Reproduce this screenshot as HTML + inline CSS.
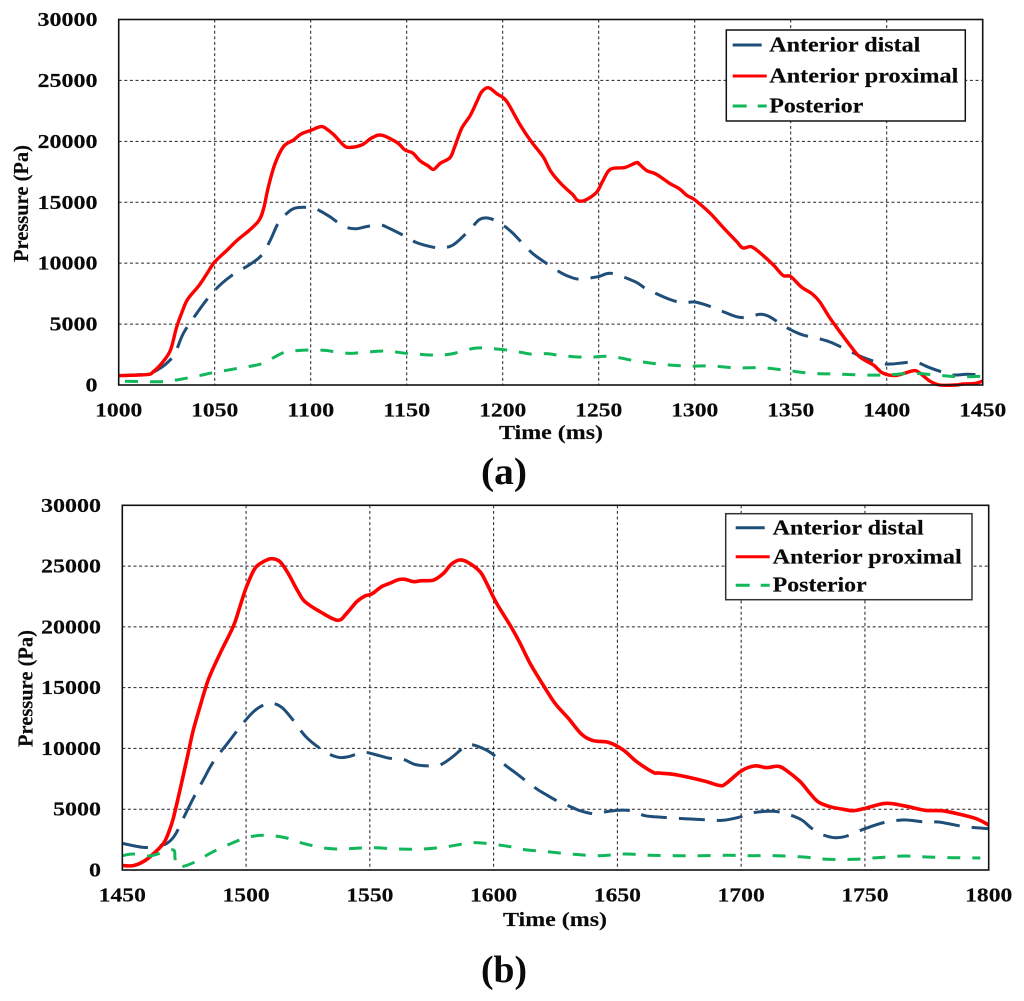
<!DOCTYPE html>
<html lang="en">
<head>
<meta charset="utf-8">
<title>Pressure vs time</title>
<style>
html,body{margin:0;padding:0;background:#fff;}
svg{display:block;filter:blur(0.35px);}
text{font-family:"Liberation Serif","DejaVu Serif",serif;font-weight:bold;fill:#0a0a0a;stroke:#0a0a0a;stroke-width:0.15px;}
text.caption{stroke:none;}
</style>
</head>
<body>
<svg id="figure" xmlns="http://www.w3.org/2000/svg" width="1024" height="1001" viewBox="0 0 1024 1001"></svg>
<script>
const seriesNames = ["Anterior distal", "Anterior proximal", "Posterior"];
const yTicks = [0, 5000, 10000, 15000, 20000, 25000, 30000];
const xTicksA = [1000, 1050, 1100, 1150, 1200, 1250, 1300, 1350, 1400, 1450];
const xTicksB = [1450, 1500, 1550, 1600, 1650, 1700, 1750, 1800];

const aDistalT = [1000,1014.6,1020,1025,1029.3,1033.7,1040.6,1049.3,1058,1068.4,1074.5,1079,1083,1087.5,1092,1099.6,1104,1110,1117,1123,1129,1136,1141,1148,1155,1164,1167,1174,1183,1188,1193.4,1200,1205.4,1214,1219,1230,1236.6,1241,1249.7,1256.6,1269,1275,1287,1294,1300,1307,1314,1321.7,1327,1334,1339,1345,1351,1356.4,1364,1371,1383,1388,1397,1402.6,1409,1415.4,1422.4,1429.3,1434.6,1442,1450];
const aDistalV = [770,900,1230,1780,2600,4240,5880,7650,8890,9900,10660,11900,13260,14080,14520,14570,14360,13810,13040,12820,13000,13150,12850,12300,11700,11300,11270,11480,12770,13590,13670,13130,12440,11020,10390,9240,8780,8700,8890,9160,8480,7880,7030,6750,6810,6510,6070,5610,5550,5800,5610,4980,4460,4100,3830,3500,2600,2240,1780,1720,1830,1860,1420,1040,820,880,820];

const aProximalT = [1000,1014.6,1018,1023,1027,1030,1033,1036,1042,1046,1050,1056,1061.5,1068,1073,1075.5,1078,1081.5,1086,1091,1095,1100,1105,1107.5,1112,1117,1120,1126.5,1132,1137,1145,1149,1153,1157,1161,1164,1167.5,1172.5,1175,1178.6,1183,1186.5,1189,1192.5,1197,1202,1208.9,1215,1221,1225,1230.5,1236.6,1239,1242.7,1248.8,1252,1256,1263.5,1269.6,1271,1275,1280,1287,1292,1296,1300,1308,1315,1322,1325,1329.5,1334,1341,1346,1350,1355.5,1361,1365,1370,1375,1380.7,1386,1393,1397.7,1403.7,1409,1414.5,1417.5,1422.5,1427.6,1436,1439.8,1446,1450];
const aProximalV = [770,850,1090,1900,2870,4650,6000,7050,8200,9150,10100,11000,11850,12700,13500,14500,16300,18200,19600,20100,20600,20900,21200,21100,20550,19700,19500,19700,20300,20500,19900,19300,19050,18400,18000,17700,18200,18650,19550,21050,22100,23250,24050,24400,23900,23300,21400,19950,18750,17550,16500,15600,15150,15150,15800,16700,17700,17850,18250,18150,17600,17300,16550,16100,15550,15200,14100,12900,11750,11250,11350,10850,9850,9000,8900,8050,7500,6850,5600,4500,3300,2300,1650,1000,770,950,1180,950,320,0,0,80,130,330];

const aPosteriorT = [1003.3,1021.5,1030,1042,1049,1062,1074,1080.6,1086.6,1092.7,1099.6,1107.5,1112.7,1119.6,1125.7,1138.7,1150,1164,1172.6,1184.7,1190.7,1203.7,1214.9,1223.6,1229.7,1243.6,1255.7,1269.6,1282.6,1295.7,1308.7,1321.7,1334.7,1347.7,1360.7,1373.7,1387.6,1399.7,1413.7,1427.6,1438,1450];
const aPosteriorV = [300,270,410,770,1010,1370,1720,2240,2710,2820,2870,2840,2730,2600,2650,2790,2600,2460,2540,3000,3030,2840,2540,2570,2430,2270,2350,1970,1700,1560,1560,1400,1420,1200,960,900,820,820,960,790,680,720];

const bDistalT = [1450,1458.5,1463.9,1468,1471.3,1475.3,1478.7,1482.7,1486.8,1492.8,1498.2,1503,1507,1510.3,1514.4,1518.4,1524.5,1531.9,1537.3,1541.3,1547.4,1552.8,1558.1,1563.5,1568.2,1573.6,1578.3,1583,1587.8,1591.1,1595.9,1599.2,1604.6,1608.7,1616.7,1620.8,1625.5,1630.2,1634.9,1640.3,1644.7,1650.4,1655,1661.2,1666.6,1677.3,1687.4,1692.8,1698.9,1705,1713,1719,1724.5,1728.5,1733.2,1738,1742.7,1750,1758,1764.9,1768.2,1774.3,1779.7,1784.4,1790.5,1800];
const bDistalV = [2190,1860,1970,2190,2880,4520,5900,7400,8910,10500,11930,13020,13570,13740,13380,12480,10890,9730,9270,9320,9680,9460,9190,9100,8690,8560,8640,9240,10060,10310,9980,9600,8640,8010,6770,6250,5700,5290,4880,4630,4770,4910,4880,4470,4360,4220,4110,4090,4330,4720,4830,4580,4110,3430,2880,2660,2800,3400,3920,4110,4090,3950,3950,3780,3560,3400];

const bProximalT = [1450,1454.4,1458.5,1462.5,1466.6,1468.6,1470.6,1473.3,1476,1478.7,1481.4,1484.7,1489.5,1494.8,1497.5,1500.2,1503.6,1507,1510.3,1513.7,1517,1521,1523.8,1529.9,1537,1540.6,1544.7,1548,1550.7,1554.8,1558,1561.5,1564.2,1567.6,1571,1575.7,1579.7,1583,1586.4,1589.8,1594.5,1597.2,1601.2,1606.6,1610.7,1614.7,1620,1624.8,1630.2,1635.6,1640.3,1646.4,1652.4,1657.8,1664.5,1666.6,1672.6,1679.4,1686,1691.5,1694,1700.2,1705.6,1710.3,1715,1718.4,1723.8,1727.8,1731.2,1735.9,1741.3,1745.4,1750,1758.1,1765.6,1774.3,1781,1787.8,1795.2,1800];
const bProximalV = [360,360,690,1320,2190,3020,4250,6580,9050,11520,13440,15630,17820,20020,21660,23310,24810,25360,25610,25360,24400,22900,22070,21250,20540,21110,22070,22540,22700,23310,23580,23880,23910,23720,23800,23850,24400,25170,25500,25280,24540,23580,21940,20150,18650,17000,15220,13710,12480,11160,10640,10500,9870,8910,8030,7980,7870,7600,7270,6940,7130,8170,8560,8420,8530,8170,7270,6310,5590,5210,4990,4880,5070,5480,5290,4910,4880,4610,4200,3700];

const bPosteriorT = [1450,1454.4,1460.5,1465.2,1470.6,1471.3,1472,1474,1478.7,1486.8,1494.8,1500.2,1505.6,1511,1516.4,1521,1529.9,1536,1541.3,1550.7,1561.5,1571.6,1581,1591.8,1599.9,1606.6,1612.7,1621.4,1632.2,1643,1653,1663.2,1674,1683.4,1694.2,1704.3,1714.4,1725.2,1734.6,1745.4,1754.8,1765.6,1775,1785.8,1796.6];
const bPosteriorV = [1180,1320,1150,1370,1650,960,330,270,600,1510,2250,2660,2850,2820,2630,2300,1860,1730,1750,1840,1730,1730,1920,2250,2110,1920,1670,1510,1290,1180,1320,1210,1180,1180,1210,1180,1180,1070,880,880,1010,1150,1070,1010,990];

const NS = "http://www.w3.org/2000/svg";
const figure = document.getElementById("figure");

function mk(parent, tag, attrs) {
  const el = document.createElementNS(NS, tag);
  for (const k in attrs) el.setAttribute(k, attrs[k]);
  parent.appendChild(el);
  return el;
}
function label(parent, str, attrs) {
  const el = mk(parent, "text", attrs);
  el.textContent = str;
  return el;
}
function smoothPath(px, py) {
  let d = "M" + px[0].toFixed(1) + " " + py[0].toFixed(1);
  for (let i = 0; i < px.length - 1; i++) {
    const p0 = Math.max(i - 1, 0), p3 = Math.min(i + 2, px.length - 1);
    const c1x = px[i] + (px[i + 1] - px[p0]) / 6, c1y = py[i] + (py[i + 1] - py[p0]) / 6;
    const c2x = px[i + 1] - (px[p3] - px[i]) / 6, c2y = py[i + 1] - (py[p3] - py[i]) / 6;
    d += "C" + c1x.toFixed(1) + " " + c1y.toFixed(1) + " " + c2x.toFixed(1) + " " + c2y.toFixed(1) + " " + px[i + 1].toFixed(1) + " " + py[i + 1].toFixed(1);
  }
  return d;
}

function drawPanel(cfg) {
  const g = mk(figure, "g", {});
  
  

  const sx = t => cfg.left + (t - cfg.xTicks[0]) / (cfg.xTicks[cfg.xTicks.length - 1] - cfg.xTicks[0]) * (cfg.right - cfg.left);
  const sy = v => cfg.bottom - v / 30000 * (cfg.bottom - cfg.top);

  yTicks.slice(1, -1).forEach(v => {
    const line = mk(g, "line", {x1: cfg.left, x2: cfg.right, y1: sy(v), y2: sy(v), stroke: "#222", "stroke-width": 1, "stroke-dasharray": "3 2.6"});
    
    
  });
  cfg.xTicks.slice(1, -1).forEach(t => {
    const line = mk(g, "line", {x1: sx(t), x2: sx(t), y1: cfg.top, y2: cfg.bottom, stroke: "#222", "stroke-width": 1, "stroke-dasharray": "3 2.6"});
    
    
  });

  cfg.series.forEach(s => {
    const path = mk(g, "path", {d: smoothPath(s.t.map(sx), s.v.map(sy)), fill: "none", stroke: s.color, "stroke-width": s.width, "stroke-dasharray": s.dash, "stroke-dashoffset": s.offset || 0, "stroke-linejoin": "round"});
    
    
  });

  const frame = mk(g, "rect", {x: cfg.left, y: cfg.top, width: cfg.right - cfg.left, height: cfg.bottom - cfg.top, fill: "none", stroke: "#111", "stroke-width": 1.6});
  
  

  yTicks.forEach(v => {
    const str = String(v);
    const tick = label(g, str, {x: cfg.yLabelX, y: sy(v) + 6.5, "text-anchor": "end", "font-size": 20.5, textLength: str.length * 12, lengthAdjust: "spacingAndGlyphs"});
    
    
  });
  cfg.xTicks.forEach(t => {
    const str = String(t);
    const tick = label(g, str, {x: sx(t), y: cfg.xLabelY, "text-anchor": "middle", "font-size": 20.5, textLength: str.length * 11.8, lengthAdjust: "spacingAndGlyphs"});
    
    
  });

  const xTitle = label(g, "Time (ms)", {x: cfg.xTitleX, y: cfg.xTitleY, "text-anchor": "middle", "font-size": 20, textLength: 104, lengthAdjust: "spacingAndGlyphs"});
  
  

  const yTitle = label(g, "Pressure (Pa)", {transform: "translate(" + cfg.yTitleX + " " + cfg.yTitleY + ") rotate(-90)", "text-anchor": "middle", "font-size": 21, textLength: 117, lengthAdjust: "spacingAndGlyphs"});
  
  

  const caption = label(g, cfg.caption, {class: "caption", x: 504, y: cfg.captionY, "text-anchor": "middle", "font-size": 38, textLength: 46, lengthAdjust: "spacingAndGlyphs"});
  
  

  const L = cfg.legend;
  const legend = mk(g, "g", {});
  
  
  const box = mk(legend, "rect", {x: L.x, y: L.y, width: L.w, height: L.h, fill: "#fff", stroke: L.stroke, "stroke-width": 1.5});
  
  
  const widths = [151, 189, 94];
  cfg.series.forEach((s, i) => {
    const key = mk(legend, "line", {x1: L.keyX, x2: L.keyX + L.keyLen[i], y1: L.lineY[i], y2: L.lineY[i], stroke: s.color, "stroke-width": 3, "stroke-dasharray": L.keyDash[i]});
    
    
    const txt = label(legend, seriesNames[i], {x: L.textX, y: L.textY[i], "font-size": 21, textLength: widths[i], lengthAdjust: "spacingAndGlyphs"});
    
    
  });
}

drawPanel({
  name: "panel-a", caption: "(a)", captionY: 484,
  left: 118.7, right: 982.7, top: 19.5, bottom: 385,
  xTicks: xTicksA, yLabelX: 97.5, xLabelY: 416.5,
  xTitleX: 551, xTitleY: 439, yTitleX: 28, yTitleY: 203.5,
  series: [
    {id: "anterior-distal", t: aDistalT, v: aDistalV, color: "#1f4e79", width: 3, dash: "23 12"},
    {id: "anterior-proximal", t: aProximalT, v: aProximalV, color: "#ff0000", width: 3.4, dash: "none"},
    {id: "posterior", t: aPosteriorT, v: aPosteriorV, color: "#12b75c", width: 3, dash: "13 12"}
  ],
  legend: {x: 726.3, y: 30, w: 239, h: 91, stroke: "#111", keyX: 732.7, keyLen: [29, 34, 34], keyDash: ["none", "none", "14 11"],
           lineY: [45, 76, 106], textX: 769.3, textY: [51.7, 82.3, 112.7]}
});

drawPanel({
  name: "panel-b", caption: "(b)", captionY: 982,
  left: 122.3, right: 988.7, top: 505.3, bottom: 870,
  xTicks: xTicksB, yLabelX: 101, xLabelY: 901.7,
  xTitleX: 555, xTitleY: 926, yTitleX: 32.5, yTitleY: 688.5,
  series: [
    {id: "anterior-distal", t: bDistalT, v: bDistalV, color: "#1f4e79", width: 3, dash: "26 12"},
    {id: "anterior-proximal", t: bProximalT, v: bProximalV, color: "#ff0000", width: 3.6, dash: "none"},
    {id: "posterior", t: bPosteriorT, v: bPosteriorV, color: "#12b75c", width: 3, dash: "13 12"}
  ],
  legend: {x: 725.7, y: 513.7, w: 246.3, h: 86, stroke: "#333", keyX: 735.7, keyLen: [29, 34, 34], keyDash: ["none", "none", "14 11"],
           lineY: [527.7, 556.7, 585.3], textX: 772.7, textY: [534.3, 563.3, 591.7]}
});
</script>
</body>
</html>
